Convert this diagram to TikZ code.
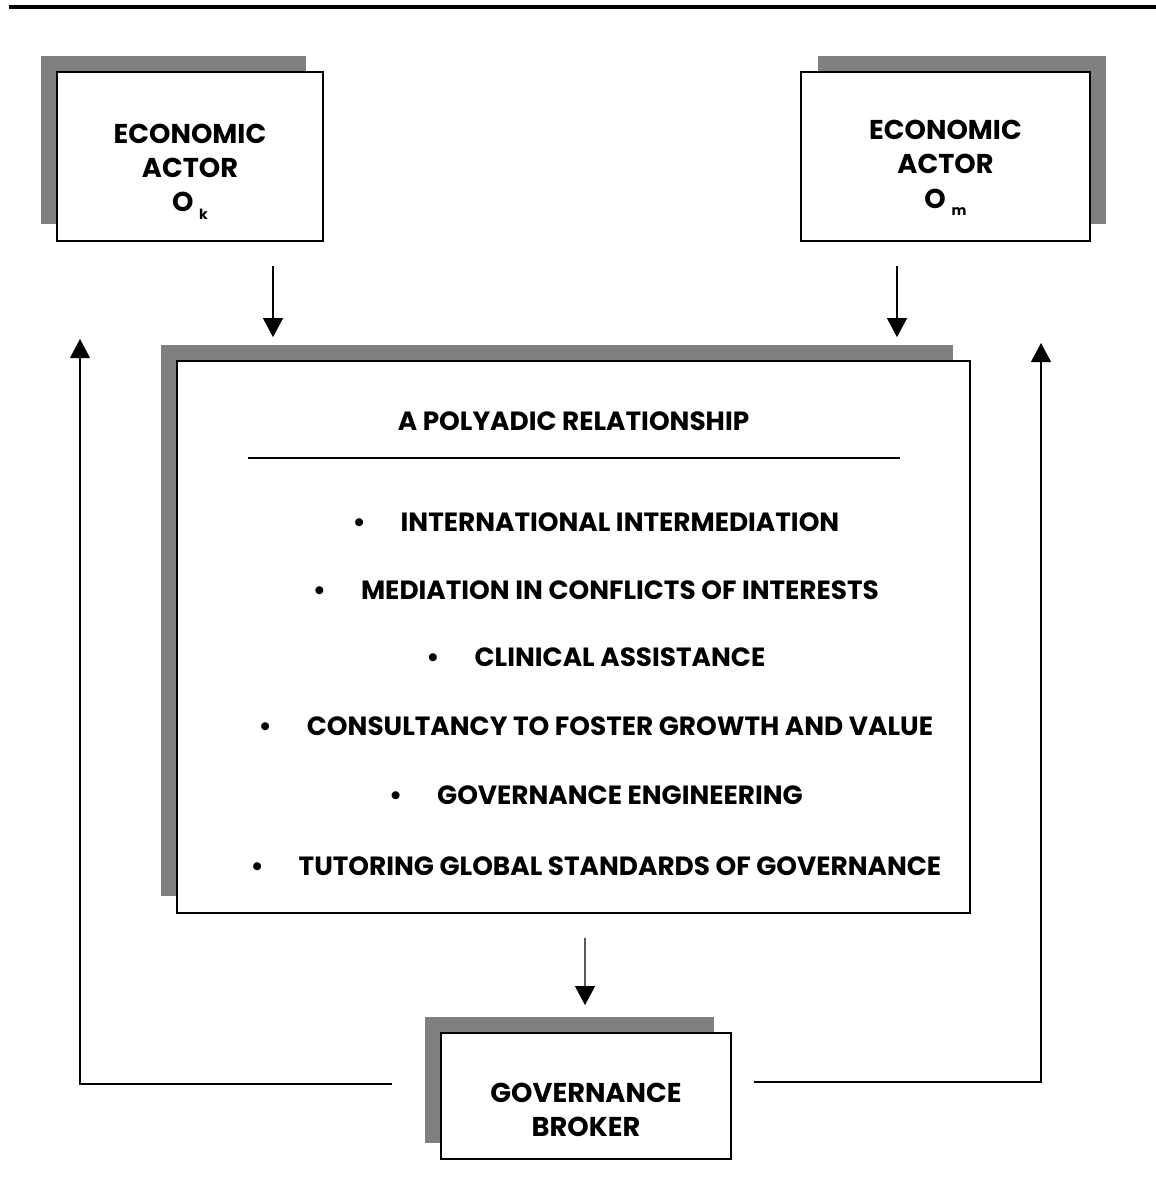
\documentclass[tikz,border=0pt]{standalone}
\usepackage{fontspec}
\setmainfont{Poppins}
\usetikzlibrary{arrows.meta,shadows}

\tikzstyle{box}=[rectangle, draw, fill=white, line width=1.1pt, align=center,
  font=\bfseries\fontsize{15.5}{19.5}\selectfont]
\tikzstyle{shadeL}=[general shadow={shadow xshift=-0.33cm, shadow yshift=0.33cm, fill=black!50}]
\tikzstyle{shadeR}=[general shadow={shadow xshift=0.33cm, shadow yshift=0.33cm, fill=black!50}]
\tikzstyle{item}=[font=\bfseries\fontsize{15}{19.5}\selectfont]
\tikzstyle{arr}=[-{Triangle[length=0.38cm, width=0.4cm]}, line width=0.6pt]

\newcommand{\bul}{\llap{\textbullet\hspace{0.7cm}}}
\newcommand{\sub}[1]{~\raisebox{-0.5ex}{\fontsize{8}{8}\selectfont #1}}
% pushes the lines of a box down
\newcommand{\push}[1]{\rule{0pt}{#1}}

\begin{document}
\begin{tikzpicture}[x=0.02cm, y=-0.02cm]
  \useasboundingbox (0,0) rectangle (1156,1198);
  \draw[line width=0.08cm] (9,7) -- (1156,7);

  \node[box, shadeL, minimum width=5.32cm, minimum height=3.38cm] (actK) at (190,156.5)
    {\push{1.0cm}ECONOMIC\\ACTOR\\O\sub{k}};
  \node[box, shadeR, minimum width=5.78cm, minimum height=3.38cm] (actM) at (945.5,156.5)
    {\push{0.85cm}ECONOMIC\\ACTOR\\O\sub{m}};
  \node[box, shadeL, minimum width=15.86cm, minimum height=11.04cm] (poly) at (573.5,637) {};
  \node[box, shadeL, minimum width=5.8cm, minimum height=2.52cm] (broker) at (586,1096)
    {\push{0.93cm}GOVERNANCE\\BROKER};

  \node[item] (title) at (573.5,421) {A POLYADIC RELATIONSHIP};
  \draw[line width=0.7pt] (248,458) -- (900,458);

  \node[item] (i1) at (620,522) {\bul INTERNATIONAL INTERMEDIATION};
  \node[item] (i2) at (620,590) {\bul MEDIATION IN CONFLICTS OF INTERESTS};
  \node[item] (i3) at (620,657) {\bul CLINICAL ASSISTANCE};
  \node[item] (i4) at (620,726) {\bul CONSULTANCY TO FOSTER GROWTH AND VALUE};
  \node[item] (i5) at (620,795) {\bul GOVERNANCE ENGINEERING};
  \node[item] (i6) at (620,866) {\bul TUTORING GLOBAL STANDARDS OF GOVERNANCE};

  \coordinate (kx) at (273,0);
  \coordinate (mx) at (897,0);
  \coordinate (fbL) at (80,339);
  \coordinate (fbR) at (1041,343);

  \draw[arr, shorten <=0.48cm, shorten >=0.46cm] (kx |- actK.south) -- (kx |- poly.north);
  \draw[arr, shorten <=0.48cm, shorten >=0.46cm] (mx |- actM.south) -- (mx |- poly.north);
  \draw[arr, shorten <=0.48cm, shorten >=0.54cm] ([xshift=0.23cm]poly.south) -- ([xshift=-0.02cm]broker.north);
  \draw[arr] ([xshift=-0.96cm, yshift=0.24cm]broker.west) -| (fbL);
  \draw[arr] ([xshift=0.44cm, yshift=0.28cm]broker.east) -| (fbR);
\end{tikzpicture}
\end{document}
